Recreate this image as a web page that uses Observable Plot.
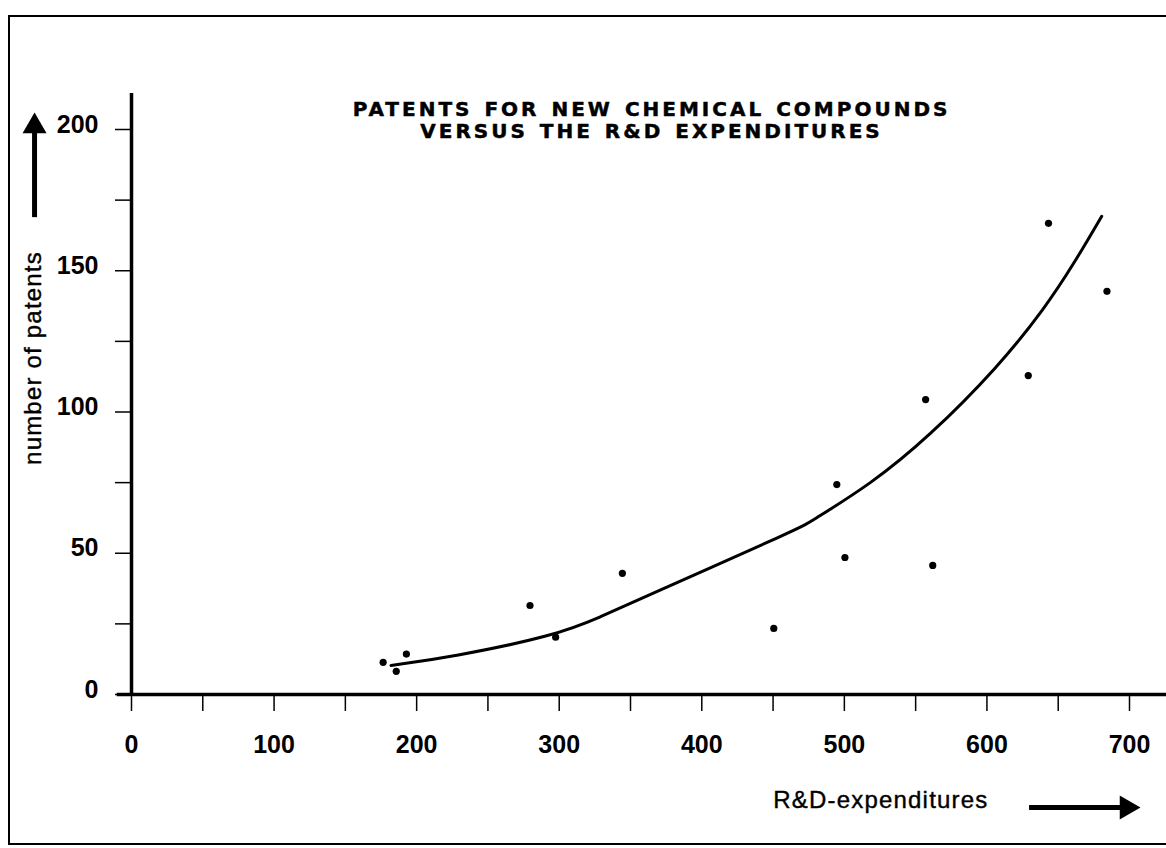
<!DOCTYPE html>
<html>
<head>
<meta charset="utf-8">
<script src="https://cdn.jsdelivr.net/npm/d3@7"></script>
<script src="https://cdn.jsdelivr.net/npm/@observablehq/plot@0.6"></script>
<style>
html,body{margin:0;padding:0;background:#fff;}
#wrap{position:relative;width:1166px;height:848px;overflow:hidden;background:#fff;}
#border{position:absolute;left:8px;top:15px;width:1200px;height:830px;border:2px solid #000;box-sizing:border-box;pointer-events:none;}
svg{display:block}
</style>
</head>
<body>
<div id="wrap"><div id="chart"></div><div id="border"></div></div>
<script>
// ---- texts ----
const titleLine1 = "PATENTS FOR NEW CHEMICAL COMPOUNDS";
const titleLine2 = "VERSUS THE R&D EXPENDITURES";
const xLabelText = "R&D-expenditures";
const yLabelText = "number of patents";

// ---- observed points (R&D expenditures vs number of patents) ----
const rdExpenditures = [176.5, 185.7, 192.8, 279.5, 297.5, 344.3, 450.5, 494.7, 500.4, 557.0, 562.0, 629.0, 643.2, 684.2];
const patentCounts   = [11.4, 8.2, 14.3, 31.5, 20.3, 42.9, 23.4, 74.3, 48.5, 104.4, 45.7, 112.9, 166.8, 142.7];

// ---- fitted curve ----
const fitRd      = [182, 224, 297.5, 329, 357, 470, 474, 519, 559, 608, 641, 661, 680.5];
const fitPatents = [10.3, 13.2, 20.9, 27.4, 33.9, 59.2, 60.5, 74.6, 91.1, 116, 137, 152.5, 169.3];

// ---- ticks ----
const xTicks = [0, 50, 100, 150, 200, 250, 300, 350, 400, 450, 500, 550, 600, 650, 700];
const xTickLabels = [0, 100, 200, 300, 400, 500, 600, 700];
const yTicks = [0, 25, 50, 75, 100, 125, 150, 175, 200];
const yTickLabels = [0, 50, 100, 150, 200];

// ---- axis extents & arrow annotations (data units) ----
const xAxisExtent = [-10, 726];
const yAxisExtent = [0, 212.7];
const yArrow = [{x: -68, y1: 168.8, y2: 199.6, head: 201.1}];
const xArrow = [{y: -40, x1: 629.9, x2: 695, head: 698}];

const points = rdExpenditures.map((x, i) => ({x, y: patentCounts[i]}));
const fit = fitRd.map((x, i) => ({x, y: fitPatents[i]}));

const font = "'Liberation Sans', Arial, Helvetica, sans-serif";
const titleStyle = {frameAnchor: "top", dx: 21, lineAnchor: "top", fontSize: 20, fontWeight: "bold",
  fontFamily: "'DejaVu Sans', sans-serif", fill: "#000", stroke: "#000", strokeWidth: 0.5, textAnchor: "middle"};

const chart = Plot.plot({
  width: 1166,
  height: 848,
  marginLeft: 131,
  marginRight: 37,
  marginTop: 129,
  marginBottom: 154,
  x: {domain: [0, 700], label: null},
  y: {domain: [0, 200], label: null},
  style: {fontFamily: font, color: "#000", background: "transparent", overflow: "visible"},
  marks: [
    // axis lines
    Plot.ruleY([0], {x1: xAxisExtent[0], x2: xAxisExtent[1], stroke: "#000", strokeWidth: 3.5}),
    Plot.ruleX([0], {y1: yAxisExtent[0], y2: yAxisExtent[1], stroke: "#000", strokeWidth: 3.5}),
    // tick marks
    Plot.axisX(xTicks, {tickSize: 17, tickFormat: () => "", strokeWidth: 1.5, label: null}),
    Plot.axisY(yTicks, {tickSize: 16, tickFormat: () => "", strokeWidth: 1.5, label: null}),
    // tick labels
    Plot.axisX(xTickLabels, {tickSize: 0, tickPadding: 41, fontSize: 25, fontWeight: "bold", label: null}),
    Plot.axisY(yTickLabels, {tickSize: 0, tickPadding: 33, dy: -5, fontSize: 25, fontWeight: "bold", label: null}),
    // fitted curve
    Plot.line(fit, {x: "x", y: "y", curve: "basis", stroke: "#000", strokeWidth: 3}),
    // points
    Plot.dot(points, {x: "x", y: "y", r: 3.6, fill: "#000", stroke: "none"}),
    // title (two lines)
    Plot.text([titleLine1], {...titleStyle, dy: -28}),
    Plot.text([titleLine2], {...titleStyle, dy: -6}),
    // y label
    Plot.text([yLabelText], {frameAnchor: "left", dx: -98, dy: -54, rotate: -90, textAnchor: "middle",
      lineAnchor: "middle", fontSize: 24, fill: "#000", stroke: "#000", strokeWidth: 0.4}),
    // x label
    Plot.text([xLabelText], {frameAnchor: "bottom-right", dx: -141, dy: 106, textAnchor: "end",
      lineAnchor: "middle", fontSize: 24, fill: "#000", stroke: "#000", strokeWidth: 0.4}),
    // y arrow
    Plot.ruleX(yArrow, {x: "x", y1: "y1", y2: "y2", stroke: "#000", strokeWidth: 5}),
    Plot.dot(yArrow, {x: "x", y: "head", symbol: "triangle", r: 8.9, fill: "#000", stroke: "none"}),
    // x arrow
    Plot.ruleY(xArrow, {y: "y", x1: "x1", x2: "x2", stroke: "#000", strokeWidth: 5}),
    Plot.dot(xArrow, {x: "head", y: "y", symbol: "triangle", rotate: 90, r: 8.9, fill: "#000", stroke: "none"})
  ]
});

// letter spacing to match the wide type of the original
d3.select(chart).selectAll("text").each(function() {
  const t = d3.select(this);
  const txt = t.text();
  if (txt === titleLine1 || txt === titleLine2) t.style("letter-spacing", "3px").style("word-spacing", "2px");
  if (txt === yLabelText || txt === xLabelText) t.style("letter-spacing", "1.2px");
});

document.getElementById("chart").appendChild(chart);
</script>
</body>
</html>
